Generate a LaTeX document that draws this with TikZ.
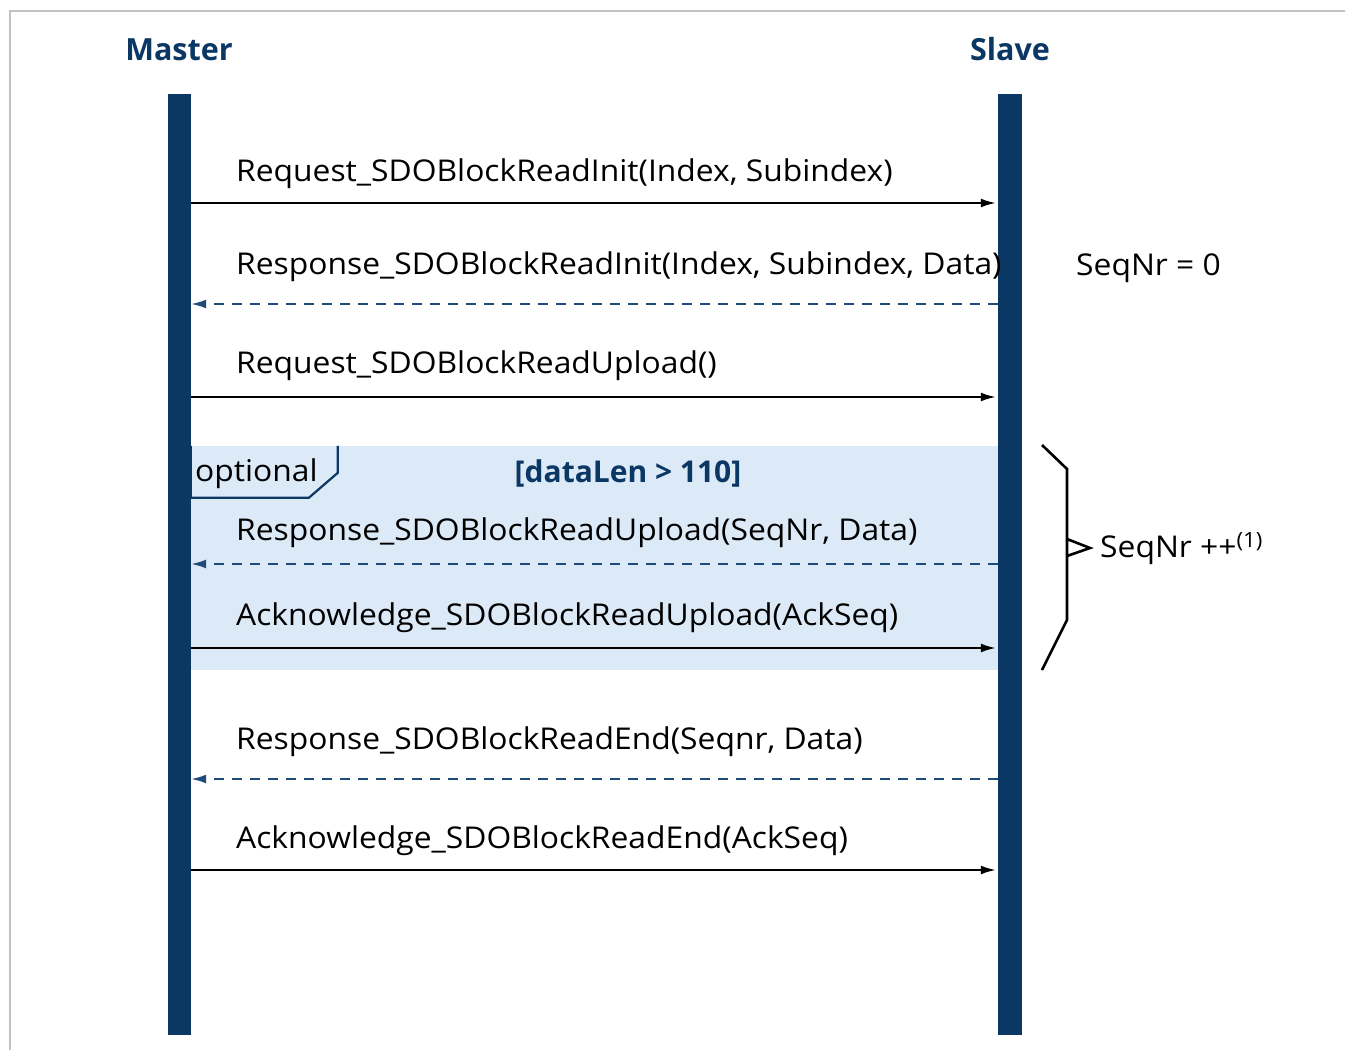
\documentclass[tikz,border=0pt]{standalone}
\usepackage{fontspec}
\setmainfont{Open Sans}[FakeStretch=1.06]
\newfontfamily\titlefont{Open Sans}
\usetikzlibrary{arrows.meta,positioning,backgrounds}

\definecolor{lifeblue}{HTML}{0B3765}
\definecolor{dashblue}{HTML}{1F4B7A}
\definecolor{optfill}{HTML}{DCE9F6}
\definecolor{framegray}{HTML}{C2C2C2}

\begin{document}
\begin{tikzpicture}[
  x=1pt, y=-1pt,
  %--- lifelines ---
  lifeline/.style={fill=lifeblue, draw=none, minimum width=23pt, minimum height=941pt,
    inner sep=0pt},
  actor/.style={font=\titlefont\fontsize{30.5}{36}\selectfont\bfseries, text=lifeblue,
    inner sep=0pt, anchor=base},
  %--- message labels ---
  msg/.style={font=\fontsize{30}{35}\selectfont, inner sep=0pt, anchor=base west},
  note/.style={msg},
  guard/.style={font=\titlefont\fontsize{30}{35}\selectfont\bfseries, text=lifeblue,
    inner sep=0pt, anchor=base},
  %--- arrows ---
  req/.style={-{Latex[length=15pt,width=9pt]}, line width=2pt, draw=black},
  resp/.style={-{Latex[length=15pt,width=9pt]}, line width=2pt, draw=dashblue,
    dash pattern=on 10pt off 8pt},
  %--- fragment ---
  frag/.style={fill=optfill, draw=none, inner sep=0pt},
  tag/.style={draw=lifeblue, line width=2.2pt},
  brace/.style={draw=black, line width=2.6pt}
]
\useasboundingbox (0,0) rectangle (1345,1050);

%% ── FRAME ───────────────────────────────────────────────────────────────────
\draw[framegray, line width=2pt] (10,1052) -- (10,11) -- (1347,11);

%% ── OPTIONAL FRAGMENT ───────────────────────────────────────────────────────
\node[frag, minimum width=807pt, minimum height=224pt] (opt) at (594.5,558) {};
\draw[tag] (opt.north west) ++(147,0) coordinate (tagtop)
  -- ++(0,27) -- ++(-29,25) -| (opt.west |- tagtop);
\node[msg] (optlbl) at (195,481) {optional};
\node[guard] (cond) at (628,482) {[dataLen > 110]};

%% ── LIFELINES ───────────────────────────────────────────────────────────────
\node[lifeline] (mst) at (179.5,564.5) {};
\node[lifeline, minimum width=24pt] (slv) at (1010,564.5) {};
\node[actor] (mstname) at (179,60) {Master};
\node[actor] (slvname) at (1010,60) {Slave};

%% ── MESSAGES ────────────────────────────────────────────────────────────────
\node[msg] (m1) at (236,181) {Request\_SDOBlockReadInit(Index, Subindex)};
\coordinate (y1) at (0,203);
\draw[req] (mst.east |- y1) -- ([xshift=-2pt]slv.west |- y1);

\node[msg] (m2) at (236,274) {Response\_SDOBlockReadInit(Index, Subindex, Data)};
\coordinate (y2) at (0,304);
\draw[resp] (slv.west |- y2) -- (mst.east |- y2);

\node[msg] (m3) at (236,373) {Request\_SDOBlockReadUpload()};
\coordinate (y3) at (0,397);
\draw[req] (mst.east |- y3) -- ([xshift=-2pt]slv.west |- y3);

\node[msg] (m4) at (236,540) {Response\_SDOBlockReadUpload(SeqNr, Data)};
\coordinate (y4) at (0,564);
\draw[resp] (slv.west |- y4) -- (mst.east |- y4);

\node[msg] (m5) at (236,625) {Acknowledge\_SDOBlockReadUpload(AckSeq)};
\coordinate (y5) at (0,648);
\draw[req] (mst.east |- y5) -- ([xshift=-2pt]slv.west |- y5);

\node[msg] (m6) at (236,749) {Response\_SDOBlockReadEnd(Seqnr, Data)};
\coordinate (y6) at (0,779);
\draw[resp] (slv.west |- y6) -- (mst.east |- y6);

\node[msg] (m7) at (236,848) {Acknowledge\_SDOBlockReadEnd(AckSeq)};
\coordinate (y7) at (0,870);
\draw[req] (mst.east |- y7) -- ([xshift=-2pt]slv.west |- y7);

%% ── SLAVE NOTES ─────────────────────────────────────────────────────────────
\node[note] (seq0) at (1076,275) {SeqNr = 0};

\coordinate (btop) at (1042,445);
\coordinate (bbot) at (1042,670);
\coordinate (btip) at (1090,548);
\draw[brace] (btop) -- ++(25,24) |- ([xshift=-23pt, yshift=-8pt]btip)
  -- (btip) -- ([xshift=-23pt, yshift=9pt]btip) -- ++(0,81) -- (bbot);
\node[note] (seqinc) at (1100,557) {SeqNr ++\textsuperscript{(1)}};
\end{tikzpicture}
\end{document}
